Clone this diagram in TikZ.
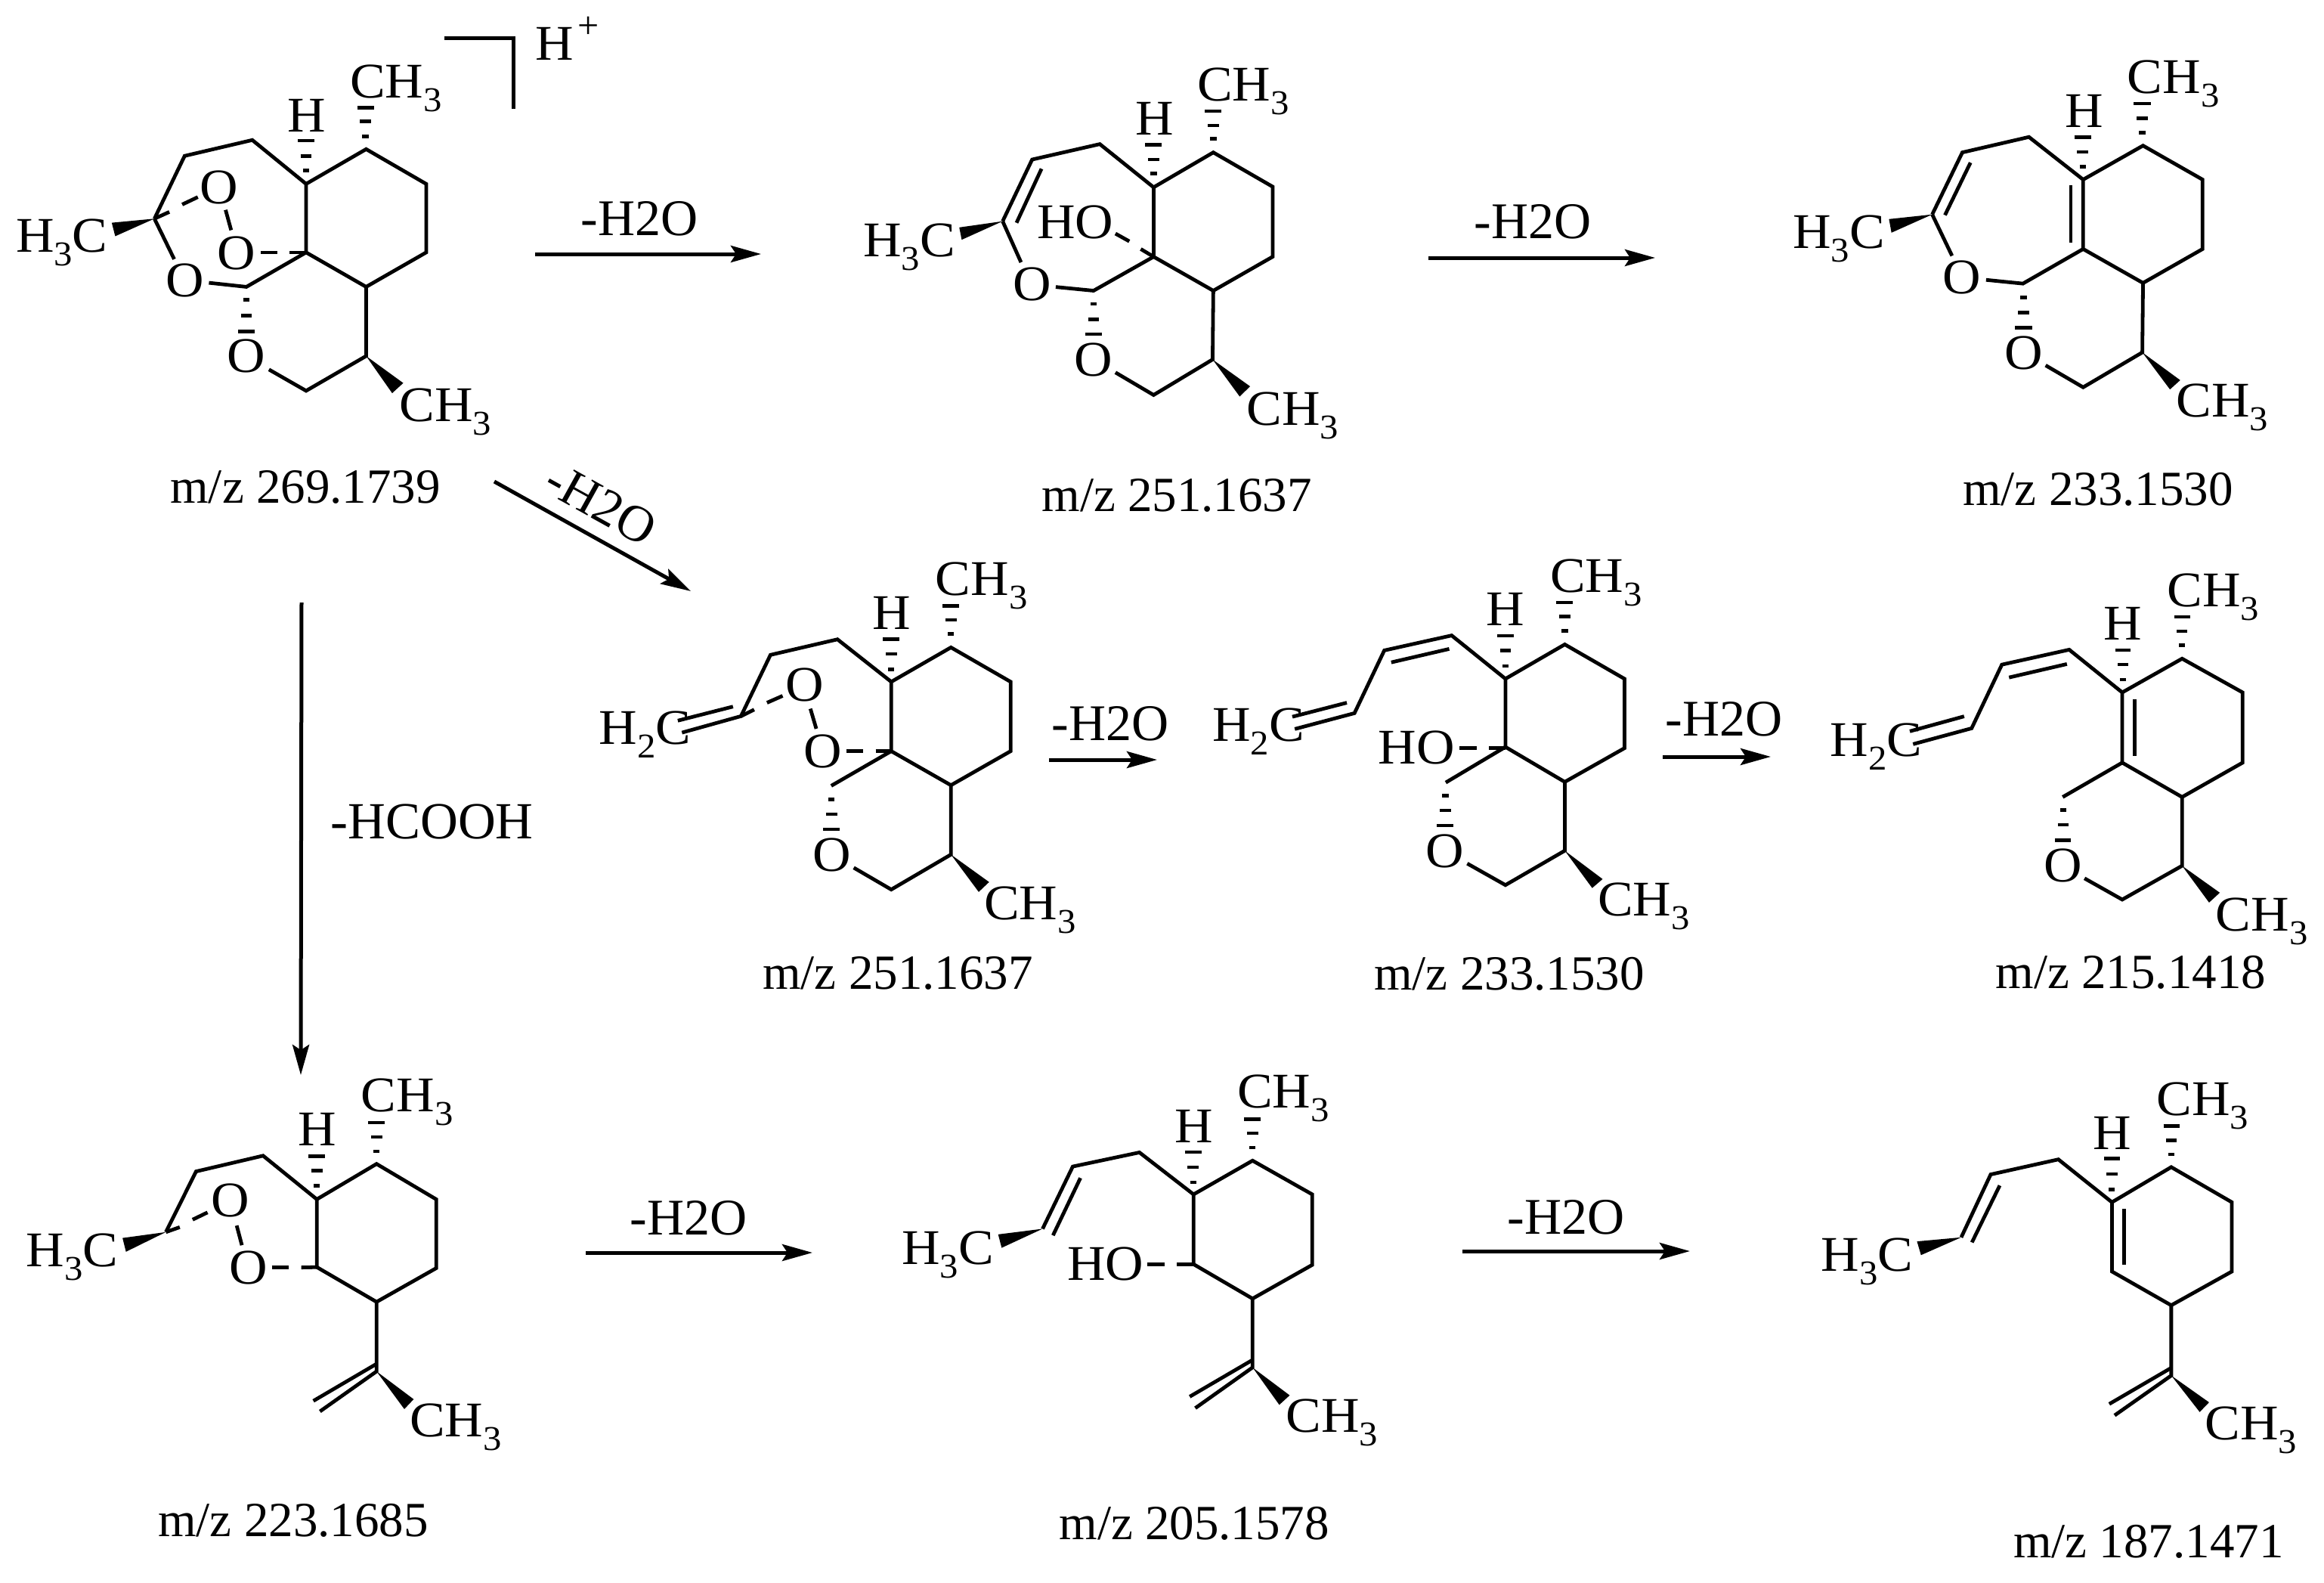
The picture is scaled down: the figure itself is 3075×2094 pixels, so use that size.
\documentclass[tikz,border=0pt]{standalone}
\usepackage{fontspec}
\setmainfont{Liberation Serif}
\newfontfamily\atomf[FakeStretch=1.06]{Liberation Serif}
\usetikzlibrary{arrows.meta}
\newcommand{\sbs}[1]{\raisebox{-9pt}{\fontsize{23}{23}\selectfont #1}}
\newcommand{\hsh}[4]{%
  \draw[hashline] (#1-9,#2) -- (#1+9,#2);
  \draw[hashline] (#1-16,#3) -- (#1+16,#3);
  \draw[hashline] (#1-24,#4) -- (#1+24,#4);}
\tikzset{
  bond/.style={line width=2.4pt,line join=miter,black},
  hashline/.style={line width=2.3pt,black},
  wedge/.style={fill=black,draw=none},
  atom/.style={inner sep=0pt,font=\atomf\fontsize{33}{33}\selectfont,anchor=base},
  atomw/.style={atom,anchor=base west},
  mzlab/.style={inner sep=0pt,font=\fontsize{32.5}{33}\selectfont,anchor=base west},
  rxlab/.style={inner sep=0pt,font=\fontsize{34}{34}\selectfont,anchor=base west},
  rxarrow/.style={line width=2.5pt,-{Stealth[length=20pt,width=11pt,inset=3.5pt]}}
}
\begin{document}
\begin{tikzpicture}[x=0.5pt,y=-0.5pt]
\useasboundingbox (0,0) rectangle (3075,2094);

% ---- molecule 1
\begin{scope}[shift={(0,0)},x=.2296pt,y=-.2232pt]
\draw[bond] (445,648)--(532,462)--(727,415)--(882,545)--(1055,442)--(1228,545)--(1228,748)--(1055,850)--(882,748)--(882,545);
\draw[bond] (882,748)--(710,850)--(602,838);
\draw[bond] (1055,850)--(1055,1055)--(882,1158)--(775,1095);
\draw[bond] (445,648)--(502,768);
\draw[bond] (445,648)--(488,628);
\draw[bond] (525,606)--(570,584);
\draw[bond] (650,622)--(666,682);
\draw[bond] (752,748)--(800,748);
\draw[bond] (835,748)--(882,748);
\hsh{882}{505}{462}{417}
\hsh{1053}{404}{360}{319}
\hsh{710}{888}{935}{982}
\fill[wedge] (445,648)--(322,660)--(332,700)--cycle;
\fill[wedge] (1055,1055)--(1162,1135)--(1130,1165)--cycle;
\node[atomw] (m1me) at (45,748) {H\sbs{3}C};
\node[atomw] (m1cha) at (1008,290) {CH\sbs{3}};
\node[atom] (m1h) at (883,390) {H};
\node[atom] (m1oa) at (632,603) {O};
\node[atom] (m1ob) at (682,798) {O};
\node[atom] (m1oc) at (532,880) {O};
\node[atom] (m1od) at (710,1103) {O};
\node[atomw] (m1chb) at (1150,1248) {CH\sbs{3}};
\node[mzlab] (m1mz) at (490,1490) {m/z 269.1739};
\draw[bond] (1280,113)--(1480,113)--(1480,322);
\end{scope}
\node[atomw] (hplus) at (708,79) {H};
\node[inner sep=0pt,font=\fontsize{25}{25}\selectfont] (hplusc) at (779,36) {+};

% ---- molecule 2
\begin{scope}[shift={(1120,60)},x=.2296pt,y=-.2041pt]
\draw[bond] (450,570)--(535,370)--(730,320)--(885,460)--(1057,347)--(1228,458)--(1228,685)--(1057,795)--(885,685)--(885,460);
\draw[bond] (490,575)--(562,400);
\draw[bond] (885,685)--(712,795)--(603,783);
\draw[bond] (1057,795)--(1055,1018)--(885,1133)--(775,1060);
\draw[bond] (450,570)--(503,703);
\draw[bond] (775,610)--(815,635);
\draw[bond] (848,660)--(885,685);
\hsh{885}{415}{370}{322}
\hsh{1057}{303}{260}{213}
\hsh{712}{838}{888}{936}
\fill[wedge] (450,570)--(325,590)--(332,630)--cycle;
\fill[wedge] (1055,1018)--(1163,1105)--(1133,1138)--cycle;
\node[atomw] (m2me) at (48,685) {H\sbs{3}C};
\node[atomw] (m2cha) at (1010,180) {CH\sbs{3}};
\node[atom] (m2h) at (887,290) {H};
\node[atomw] (m2ho) at (548,625) {HO};
\node[atom] (m2oa) at (535,828) {O};
\node[atom] (m2ob) at (712,1072) {O};
\node[atomw] (m2chb) at (1152,1230) {CH\sbs{3}};
\node[mzlab] (m2mz) at (562,1510) {m/z 251.1637};
\end{scope}

% ---- molecule 3
\begin{scope}[shift={(2340,60)},x=.2344pt,y=-.2041pt]
\draw[bond] (462,548)--(547,347)--(735,297)--(888,435)--(1057,325)--(1225,435)--(1225,660)--(1057,770)--(888,660)--(888,435);
\draw[bond] (498,550)--(570,380);
\draw[bond] (853,452)--(853,640);
\draw[bond] (888,660)--(718,772)--(614,760);
\draw[bond] (1057,770)--(1055,995)--(888,1108)--(782,1037);
\draw[bond] (462,548)--(518,682);
\hsh{887}{393}{345}{298}
\hsh{1055}{283}{236}{189}
\hsh{720}{817}{866}{915}
\fill[wedge] (462,548)--(340,563)--(347,607)--cycle;
\fill[wedge] (1055,995)--(1162,1085)--(1133,1115)--cycle;
\node[atomw] (m3me) at (68,658) {H\sbs{3}C};
\node[atomw] (m3cha) at (1012,155) {CH\sbs{3}};
\node[atom] (m3h) at (890,267) {H};
\node[atom] (m3oa) at (545,805) {O};
\node[atom] (m3ob) at (720,1050) {O};
\node[atomw] (m3chb) at (1150,1205) {CH\sbs{3}};
\node[mzlab] (m3mz) at (548,1490) {m/z 233.1530};
\end{scope}

% ---- molecule 4
\begin{scope}[shift={(760,720)},x=.2296pt,y=-.1977pt]
\draw[bond] (310,630)--(480,575)--(565,370)--(758,318)--(913,460)--(1085,345)--(1257,460)--(1257,692)--(1085,806)--(913,692)--(913,460);
\draw[bond] (298,590)--(457,543);
\draw[bond] (913,692)--(740,808);
\draw[bond] (1085,806)--(1085,1038)--(913,1155)--(805,1082);
\draw[bond] (480,575)--(518,553);
\draw[bond] (555,530)--(600,507);
\draw[bond] (680,550)--(697,617);
\draw[bond] (783,692)--(832,692);
\draw[bond] (868,692)--(913,692);
\hsh{913}{418}{367}{318}
\hsh{1085}{300}{253}{206}
\hsh{741}{853}{903}{953}
\fill[wedge] (1085,1038)--(1195,1130)--(1165,1163)--cycle;
\node[atomw] (m4me) at (70,668) {H\sbs{2}C};
\node[atomw] (m4cha) at (1040,170) {CH\sbs{3}};
\node[atom] (m4h) at (915,285) {H};
\node[atom] (m4oa) at (663,525) {O};
\node[atom] (m4ob) at (715,748) {O};
\node[atom] (m4oc) at (741,1095) {O};
\node[atomw] (m4chb) at (1180,1255) {CH\sbs{3}};
\node[mzlab] (m4mz) at (542,1488) {m/z 251.1637};
\end{scope}

% ---- molecule 5
\begin{scope}[shift={(1580,720)},x=.2296pt,y=-.1977pt]
\draw[bond] (290,618)--(462,565)--(548,355)--(742,305)--(897,450)--(1068,335)--(1240,450)--(1240,682)--(1068,795)--(897,678)--(897,450);
\draw[bond] (283,577)--(440,530);
\draw[bond] (568,395)--(735,350);
\draw[bond] (897,678)--(725,797);
\draw[bond] (1068,795)--(1068,1025)--(897,1140)--(787,1068);
\draw[bond] (765,681)--(815,681);
\draw[bond] (850,681)--(897,681);
\hsh{897}{407}{355}{306}
\hsh{1068}{290}{242}{195}
\hsh{724}{841}{890}{941}
\fill[wedge] (1068,1025)--(1177,1120)--(1147,1150)--cycle;
\node[atomw] (m5me) at (52,658) {H\sbs{2}C};
\node[atomw] (m5cha) at (1025,160) {CH\sbs{3}};
\node[atom] (m5h) at (897,273) {H};
\node[atomw] (m5ho) at (530,735) {HO};
\node[atom] (m5o) at (723,1082) {O};
\node[atomw] (m5chb) at (1162,1243) {CH\sbs{3}};
\node[mzlab] (m5mz) at (518,1492) {m/z 233.1530};
\end{scope}

% ---- molecule 6
\begin{scope}[shift={(2400,740)},x=.2152pt,y=-.1977pt]
\draw[bond] (305,618)--(485,565)--(578,352)--(785,302)--(948,445)--(1132,332)--(1318,445)--(1318,680)--(1132,795)--(948,680)--(948,445);
\draw[bond] (295,575)--(462,525);
\draw[bond] (600,395)--(778,350);
\draw[bond] (987,468)--(987,658);
\draw[bond] (948,680)--(765,795);
\draw[bond] (1132,795)--(1132,1025)--(948,1138)--(832,1067);
\hsh{950}{402}{352}{303}
\hsh{1132}{287}{240}{192}
\hsh{766}{838}{888}{940}
\fill[wedge] (1132,1025)--(1248,1115)--(1215,1148)--cycle;
\node[atomw] (m6me) at (50,658) {H\sbs{2}C};
\node[atomw] (m6cha) at (1085,157) {CH\sbs{3}};
\node[atom] (m6h) at (950,270) {H};
\node[atom] (m6o) at (766,1078) {O};
\node[atomw] (m6chb) at (1235,1242) {CH\sbs{3}};
\node[mzlab] (m6mz) at (558,1435) {m/z 215.1418};
\end{scope}

% ---- molecule 7
\begin{scope}[shift={(0,1400)},x=.2296pt,y=-.2168pt]
\draw[bond] (478,530)--(565,345)--(758,297)--(913,430)--(1085,322)--(1257,430)--(1257,640)--(1085,743)--(913,637)--(913,430);
\draw[bond] (1085,743)--(1085,955)--(922,1077);
\draw[bond] (1085,932)--(903,1045);
\draw[bond] (478,530)--(518,515);
\draw[bond] (555,492)--(598,470);
\draw[bond] (682,510)--(697,570);
\draw[bond] (783,638)--(832,638);
\draw[bond] (868,638)--(913,637);
\hsh{913}{388}{343}{298}
\hsh{1085}{284}{240}{196}
\fill[wedge] (478,530)--(353,548)--(363,590)--cycle;
\fill[wedge] (1085,955)--(1192,1040)--(1165,1070)--cycle;
\node[atomw] (m7me) at (75,635) {H\sbs{3}C};
\node[atomw] (m7cha) at (1040,163) {CH\sbs{3}};
\node[atom] (m7h) at (915,267) {H};
\node[atom] (m7oa) at (663,482) {O};
\node[atom] (m7ob) at (715,688) {O};
\node[atomw] (m7chb) at (1180,1155) {CH\sbs{3}};
\node[mzlab] (m7mz) at (455,1458) {m/z 223.1685};
\end{scope}

% ---- molecule 8
\begin{scope}[shift={(1160,1400)},x=.2296pt,y=-.2168pt]
\draw[bond] (478,520)--(565,330)--(757,287)--(913,415)--(1083,312)--(1255,415)--(1255,630)--(1083,733)--(913,628)--(913,415);
\draw[bond] (1083,733)--(1083,943)--(918,1067);
\draw[bond] (1083,920)--(902,1032);
\draw[bond] (508,540)--(587,365);
\draw[bond] (780,628)--(830,628);
\draw[bond] (865,628)--(913,628);
\hsh{912}{378}{332}{286}
\hsh{1083}{272}{228}{185}
\fill[wedge] (478,520)--(350,537)--(360,578)--cycle;
\fill[wedge] (1083,943)--(1190,1028)--(1160,1057)--cycle;
\node[atomw] (m8me) at (72,628) {H\sbs{3}C};
\node[atomw] (m8cha) at (1038,152) {CH\sbs{3}};
\node[atom] (m8h) at (913,257) {H};
\node[atomw] (m8ho) at (548,678) {HO};
\node[atomw] (m8chb) at (1178,1140) {CH\sbs{3}};
\node[mzlab] (m8mz) at (525,1468) {m/z 205.1578};
\end{scope}

% ---- molecule 9
\begin{scope}[shift={(2380,1400)},x=.2216pt,y=-.2213pt]
\draw[bond] (485,535)--(573,347)--(775,302)--(935,430)--(1112,325)--(1293,430)--(1293,637)--(1112,738)--(935,637)--(935,430);
\draw[bond] (1112,738)--(1112,948)--(943,1067);
\draw[bond] (1112,925)--(927,1033);
\draw[bond] (517,550)--(600,380);
\draw[bond] (972,450)--(972,617);
\hsh{935}{392}{346}{300}
\hsh{1113}{287}{245}{202}
\fill[wedge] (485,535)--(353,547)--(365,588)--cycle;
\fill[wedge] (1112,948)--(1225,1028)--(1197,1057)--cycle;
\node[atomw] (m9me) at (66,635) {H\sbs{3}C};
\node[atomw] (m9cha) at (1068,170) {CH\sbs{3}};
\node[atom] (m9h) at (935,273) {H};
\node[atomw] (m9chb) at (1212,1140) {CH\sbs{3}};
\node[mzlab] (m9mz) at (640,1492) {m/z 187.1471};
\end{scope}

% ---- reaction arrows
\coordinate (a1s) at (708,336);  \coordinate (a1e) at (1007,336);
\coordinate (a2s) at (1890,341); \coordinate (a2e) at (2190,341);
\coordinate (a3s) at (654,637);  \coordinate (a3e) at (914,782);
\coordinate (a4s) at (399,797);  \coordinate (a4e) at (398,1422);
\coordinate (a5s) at (1388,1005);\coordinate (a5e) at (1531,1005);
\coordinate (a6s) at (2200,1001);\coordinate (a6e) at (2343,1001);
\coordinate (a7s) at (775,1657); \coordinate (a7e) at (1075,1657);
\coordinate (a8s) at (1935,1655);\coordinate (a8e) at (2236,1655);
\draw[rxarrow] (a1s) -- (a1e);
\draw[rxarrow] (a2s) -- (a2e);
\draw[rxarrow] (a3s) -- (a3e);
\draw[rxarrow] (a4s) -- (a4e);
\draw[rxarrow] (a5s) -- (a5e);
\draw[rxarrow] (a6s) -- (a6e);
\draw[rxarrow] (a7s) -- (a7e);
\draw[rxarrow] (a8s) -- (a8e);
\node[rxlab] (l1) at (768,311) {-H2O};
\node[rxlab] (l2) at (1950,315) {-H2O};
\node[rxlab,anchor=center,rotate=-29] (l3) at (795,667) {-H2O};
\node[rxlab,font=\fontsize{34.5}{35}\selectfont] (l4) at (437,1109) {-HCOOH};
\node[rxlab] (l5) at (1391,979) {-H2O};
\node[rxlab] (l6) at (2203,973) {-H2O};
\node[rxlab] (l7) at (833,1633) {-H2O};
\node[rxlab] (l8) at (1994,1632) {-H2O};
\end{tikzpicture}
\end{document}
